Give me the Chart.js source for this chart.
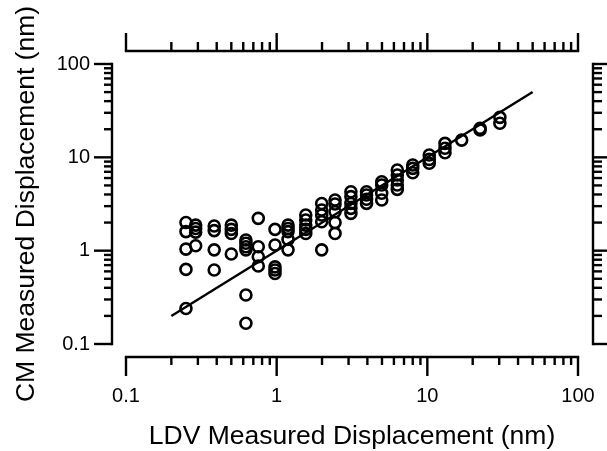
<!DOCTYPE html>
<html>
<head>
<meta charset="utf-8">
<script src="https://cdn.jsdelivr.net/npm/chart.js@4/dist/chart.umd.min.js"></script>
<style>
  html, body { margin: 0; padding: 0; background: #fff; }
  #wrap { width: 607px; height: 451px; }
</style>
</head>
<body>
<div id="wrap"><canvas id="cmchart"></canvas></div>
<script>
// LDV displacement (x) and CM displacement (y), in nm
var ldv = [
  0.25, 0.25, 0.25, 0.25, 0.25,
  0.29, 0.29, 0.29, 0.29,
  0.385, 0.385, 0.385, 0.385,
  0.5, 0.5, 0.5, 0.5,
  0.625, 0.625, 0.625, 0.625, 0.625, 0.625,
  0.755, 0.755, 0.755, 0.755,
  0.975, 0.975, 0.975, 0.975, 0.975,
  1.19, 1.19, 1.19, 1.19, 1.19,
  1.56, 1.56, 1.56, 1.56, 1.56,
  1.99, 1.99, 1.99, 1.99, 1.99,
  2.44, 2.44, 2.44, 2.44, 2.44,
  3.11, 3.11, 3.11, 3.11, 3.11,
  3.95, 3.95, 3.95, 3.95,
  4.98, 4.98, 4.98, 4.98,
  6.32, 6.32, 6.32, 6.32, 6.32,
  8.0, 8.0, 8.0,
  10.3, 10.3, 10.3,
  13.1, 13.1, 13.1,
  16.9,
  22.4, 22.4,
  30.3, 30.3
];
var cm = [
  2.0, 1.6, 1.04, 0.63, 0.24,
  1.88, 1.73, 1.58, 1.13,
  1.84, 1.64, 1.02, 0.62,
  1.88, 1.69, 1.53, 0.92,
  1.30, 1.2, 1.1, 1.02, 0.335, 0.167,
  2.22, 1.1, 0.86, 0.685,
  1.69, 1.15, 0.67, 0.62, 0.57,
  1.88, 1.73, 1.6, 1.32, 1.02,
  2.41, 2.13, 1.88, 1.69, 1.53,
  3.2, 2.73, 2.41, 2.04, 1.02,
  3.49, 3.16, 2.61, 2.0, 1.53,
  4.28, 3.79, 3.21, 2.84, 2.51,
  4.28, 3.95, 3.55, 3.21,
  5.48, 5.05, 4.12, 3.49,
  7.31, 6.47, 5.72, 5.05, 4.54,
  8.27, 7.62, 6.84,
  10.6, 9.5, 8.63,
  14.1, 12.5, 11.2,
  15.3,
  19.6, 20.5,
  26.8, 23.2
];

// fit line y = x
var fitX = [0.2, 50];
var fitY = [0.2, 50];

// axis ticks
var majorTicks = [0.1, 1, 10, 100];
var tickLabels = ['0.1', '1', '10', '100'];
var minorSteps = [2, 3, 4, 5, 6, 7, 8, 9];

var xTitle = 'LDV Measured Displacement (nm)';
var yTitle = 'CM Measured Displacement (nm)';

function toPoints(xs, ys) {
  var pts = [];
  for (var i = 0; i < xs.length; i++) {
    pts.push({ x: xs[i], y: ys[i] });
  }
  return pts;
}

function minorTicks() {
  var out = [];
  for (var d = 0; d < majorTicks.length - 1; d++) {
    for (var j = 0; j < minorSteps.length; j++) {
      out.push(majorTicks[d] * minorSteps[j]);
    }
  }
  return out;
}

// draws the detached Igor-style axes around the plot area
var offsetAxes = {
  id: 'offsetAxes',
  afterDraw: function (chart) {
    var ctx = chart.ctx;
    var xs = chart.scales.x;
    var ys = chart.scales.y;
    var minors = minorTicks();
    var x0 = xs.getPixelForValue(0.1), x1 = xs.getPixelForValue(100);
    var y0 = ys.getPixelForValue(100), y1 = ys.getPixelForValue(0.1);
    var topY = 51, botY = 357, leftX = 112, rightX = 593;

    ctx.save();
    ctx.strokeStyle = '#000';
    ctx.lineWidth = 2.4;
    ctx.lineCap = 'butt';

    function seg(ax, ay, bx, by) {
      ctx.beginPath();
      ctx.moveTo(ax, ay);
      ctx.lineTo(bx, by);
      ctx.stroke();
    }

    // axis lines
    seg(x0 - 1.2, topY, x1 + 1.2, topY);
    seg(x0 - 1.2, botY, x1 + 1.2, botY);
    seg(leftX, y0 - 1.2, leftX, y1 + 1.2);
    seg(rightX, y0 - 1.2, rightX, y1 + 1.2);

    // x ticks
    majorTicks.forEach(function (v) {
      var p = xs.getPixelForValue(v);
      seg(p, topY, p, topY - 18);
      seg(p, botY, p, botY + 19);
    });
    minors.forEach(function (v) {
      var p = xs.getPixelForValue(v);
      seg(p, topY, p, topY - 9);
      seg(p, botY, p, botY + 8);
    });

    // y ticks
    majorTicks.forEach(function (v) {
      var p = ys.getPixelForValue(v);
      seg(leftX, p, leftX - 18, p);
      seg(rightX, p, rightX + 18, p);
    });
    minors.forEach(function (v) {
      var p = ys.getPixelForValue(v);
      seg(leftX, p, leftX - 8, p);
      seg(rightX, p, rightX + 9, p);
    });

    // tick labels
    ctx.fillStyle = '#000';
    ctx.font = '20px "Liberation Sans", Arial, sans-serif';
    ctx.textBaseline = 'middle';
    ctx.textAlign = 'center';
    majorTicks.forEach(function (v, i) {
      ctx.fillText(tickLabels[i], xs.getPixelForValue(v), 396);
    });
    ctx.textAlign = 'right';
    majorTicks.forEach(function (v, i) {
      ctx.fillText(tickLabels[i], 90, ys.getPixelForValue(v));
    });

    // axis titles
    ctx.font = '26.5px "Liberation Sans", Arial, sans-serif';
    ctx.textAlign = 'center';
    ctx.textBaseline = 'alphabetic';
    ctx.fillText(xTitle, (x0 + x1) / 2, 444);
    ctx.translate(34, (y0 + y1) / 2);
    ctx.rotate(-Math.PI / 2);
    ctx.fillText(yTitle, 0, 0);
    ctx.restore();
  }
};

new Chart(document.getElementById('cmchart'), {
  type: 'scatter',
  data: {
    datasets: [
      {
        data: toPoints(ldv, cm),
        pointRadius: 5.5,
        pointHoverRadius: 5.5,
        borderWidth: 2.6,
        pointBorderWidth: 2.6,
        borderColor: '#000',
        backgroundColor: 'rgba(0,0,0,0)',
        showLine: false
      },
      {
        data: toPoints(fitX, fitY),
        showLine: true,
        borderColor: '#000',
        borderWidth: 2.4,
        pointRadius: 0,
        fill: false
      }
    ]
  },
  options: {
    responsive: true,
    maintainAspectRatio: false,
    animation: false,
    events: [],
    layout: { padding: { left: 126, right: 29, top: 64, bottom: 107 } },
    plugins: { legend: { display: false }, tooltip: { enabled: false } },
    scales: {
      x: { type: 'logarithmic', min: 0.1, max: 100, display: false },
      y: { type: 'logarithmic', min: 0.1, max: 100, display: false }
    }
  },
  plugins: [offsetAxes]
});
</script>
</body>
</html>
